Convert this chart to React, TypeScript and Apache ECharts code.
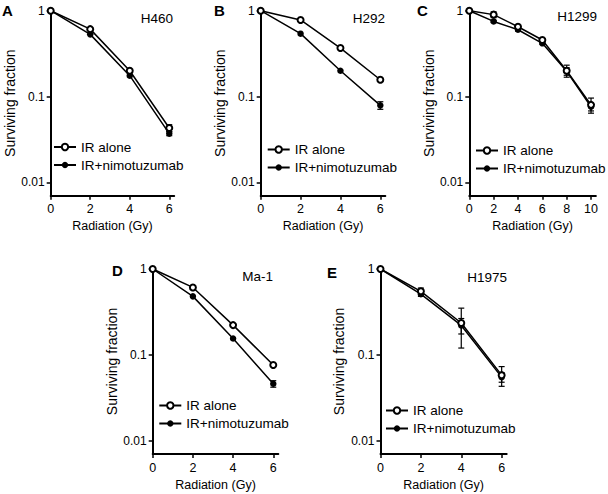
import React, { useEffect, useRef } from 'react';
import * as echarts from 'echarts';

// ---------- data ----------
const dose6 = [0, 2, 4, 6];
const dose10 = [0, 2, 4, 6, 8, 10];
const yTickValues = [0.01, 0.1, 1];
const xTicks6 = [0, 2, 4, 6];
const xTicks10 = [0, 2, 4, 6, 8, 10];

const seriesNames = ['IR alone', 'IR+nimotuzumab'];

const h460Alone = [1, 0.61, 0.2, 0.043];
const h460AloneErr = [0, 0, 0, 0.004];
const h460Nimo = [1, 0.53, 0.175, 0.037];
const h460NimoErr = [0, 0, 0, 0.002];

const h292Alone = [1, 0.78, 0.367, 0.157];
const h292AloneErr = [0, 0, 0, 0];
const h292Nimo = [1, 0.54, 0.2, 0.079];
const h292NimoErr = [0, 0, 0, 0.008];

const h1299Alone = [1, 0.9, 0.65, 0.456, 0.2, 0.08];
const h1299AloneErr = [0, 0.07, 0.02, 0.015, 0.032, 0.016];
const h1299Nimo = [1, 0.75, 0.6, 0.417, 0.197, 0.076];
const h1299NimoErr = [0, 0.02, 0.02, 0.01, 0.02, 0.008];

const ma1Alone = [1, 0.61, 0.222, 0.076];
const ma1AloneErr = [0, 0, 0, 0];
const ma1Nimo = [1, 0.48, 0.155, 0.046];
const ma1NimoErr = [0, 0, 0, 0.004];

const h1975Alone = [1, 0.55, 0.235, 0.058];
const h1975AloneErr = [0, 0.05, 0.115, 0.015];
const h1975Nimo = [1, 0.51, 0.22, 0.055];
const h1975NimoErr = [0, 0.03, 0.045, 0.007];

const panelLetters = ['A', 'B', 'C', 'D', 'E'];
const cellLines = ['H460', 'H292', 'H1299', 'Ma-1', 'H1975'];

// ---------- layout ----------
const FONT = '"Liberation Sans", Arial, Helvetica, sans-serif';

const panels = [
  { x: dose6, a: h460Alone, ae: h460AloneErr, n: h460Nimo, ne: h460NimoErr, xTicks: xTicks6, xMax: 6.25,
    left: 50.7, top: 10.7, width: 123.5, height: 185, nameGap: 32,
    legendLeft: 53, legendTop: 140, letterX: 2, letterY: 3, cellX: 173, cellY: 18 },
  { x: dose6, a: h292Alone, ae: h292AloneErr, n: h292Nimo, ne: h292NimoErr, xTicks: xTicks6, xMax: 6.25,
    left: 260.7, top: 10.7, width: 124.6, height: 185, nameGap: 30,
    legendLeft: 266.7, legendTop: 142.5, letterX: 214, letterY: 3, cellX: 385, cellY: 18 },
  { x: dose10, a: h1299Alone, ae: h1299AloneErr, n: h1299Nimo, ne: h1299NimoErr, xTicks: xTicks10, xMax: 10.4,
    left: 469.3, top: 10.7, width: 126.6, height: 185, nameGap: 33,
    legendLeft: 475, legendTop: 143.5, letterX: 417, letterY: 3, cellX: 597, cellY: 16 },
  { x: dose6, a: ma1Alone, ae: ma1AloneErr, n: ma1Nimo, ne: ma1NimoErr, xTicks: xTicks6, xMax: 6.25,
    left: 152.7, top: 269, width: 125.6, height: 185, nameGap: 30,
    legendLeft: 158.3, legendTop: 398.5, letterX: 112, letterY: 263, cellX: 273, cellY: 276 },
  { x: dose6, a: h1975Alone, ae: h1975AloneErr, n: h1975Nimo, ne: h1975NimoErr, xTicks: xTicks6, xMax: 6.25,
    left: 380.5, top: 269, width: 126.2, height: 185, nameGap: 35,
    legendLeft: 385, legendTop: 403.5, letterX: 327, letterY: 265, cellX: 507, cellY: 277 },
];

function errorRender(params: any, api: any) {
  const x = api.value(0);
  const lo = api.value(1);
  const hi = api.value(2);
  const p1 = api.coord([x, hi]);
  const p2 = api.coord([x, lo]);
  const w = 3;
  const style = { stroke: '#000', lineWidth: 1.2 };
  return {
    type: 'group',
    children: [
      { type: 'line', shape: { x1: p1[0], y1: p1[1], x2: p2[0], y2: p2[1] }, style },
      { type: 'line', shape: { x1: p1[0] - w, y1: p1[1], x2: p1[0] + w, y2: p1[1] }, style },
      { type: 'line', shape: { x1: p2[0] - w, y1: p2[1], x2: p2[0] + w, y2: p2[1] }, style },
    ],
  };
}

function buildOption() {
  const grid: any[] = [];
  const xAxis: any[] = [];
  const yAxis: any[] = [];
  const series: any[] = [];
  const legend: any[] = [];
  const graphic: any[] = [];

  panels.forEach((p, i) => {
    grid.push({ left: p.left, top: p.top, width: p.width, height: p.height, containLabel: false, outerBoundsMode: 'none' });
    xAxis.push({
      type: 'value', gridIndex: i, min: 0, max: p.xMax,
      axisLine: { show: true, onZero: false, lineStyle: { color: '#000', width: 2 } },
      axisTick: { show: true, length: 4, lineStyle: { color: '#000', width: 1.5 }, customValues: p.xTicks },
      axisLabel: { customValues: p.xTicks, color: '#000', fontSize: 12.5, margin: 7, fontFamily: FONT },
      splitLine: { show: false },
      name: 'Radiation (Gy)', nameLocation: 'middle', nameGap: 24,
      nameTextStyle: { color: '#000', fontSize: 12.5, fontFamily: FONT },
    });
    yAxis.push({
      type: 'log', logBase: 10, gridIndex: i, min: 0.007, max: 1,
      axisLine: { show: true, onZero: false, lineStyle: { color: '#000', width: 2 } },
      axisTick: { show: true, length: 4, lineStyle: { color: '#000', width: 1.5 }, customValues: yTickValues },
      axisLabel: {
        customValues: yTickValues, color: '#000', fontSize: 12, margin: 6, fontFamily: FONT,
        formatter: (v: number) => String(+Number(v).toPrecision(3)),
      },
      splitLine: { show: false },
      minorTick: { show: false },
      name: 'Surviving fraction', nameLocation: 'middle', nameGap: p.nameGap,
      nameTextStyle: { color: '#000', fontSize: 14, fontFamily: FONT },
    });

    const errData = (vals: number[], errs: number[]) =>
      p.x.map((x, j) => [x, vals[j] - errs[j], vals[j] + errs[j]]).filter((_, j) => errs[j] > 0);

    series.push({
      type: 'custom', xAxisIndex: i, yAxisIndex: i, renderItem: errorRender,
      data: [...errData(p.a, p.ae), ...errData(p.n, p.ne)], z: 1, silent: true,
      encode: { x: 0, y: [1, 2] },
    });
    series.push({
      name: seriesNames[1], type: 'line', xAxisIndex: i, yAxisIndex: i,
      data: p.x.map((x, j) => [x, p.n[j]]),
      symbol: 'circle', symbolSize: 6.5,
      lineStyle: { color: '#000', width: 1.5 },
      itemStyle: { color: '#000' }, z: 2,
    });
    series.push({
      name: seriesNames[0], type: 'line', xAxisIndex: i, yAxisIndex: i,
      data: p.x.map((x, j) => [x, p.a[j]]),
      symbol: 'emptyCircle', symbolSize: 6,
      lineStyle: { color: '#000', width: 1.5 },
      itemStyle: { color: '#000', borderWidth: 1.2 }, z: 3,
    });

    legend.push({
      data: seriesNames, orient: 'vertical', left: p.legendLeft, top: p.legendTop,
      itemWidth: 22, itemHeight: 8, itemGap: 4, padding: 0, selectedMode: false,
      textStyle: { color: '#000', fontSize: 13.5, fontFamily: FONT },
    });

    graphic.push({
      type: 'text', left: p.letterX, top: p.letterY,
      style: { text: panelLetters[i], font: `bold 15px ${FONT}`, fill: '#000' },
    });
    graphic.push({
      type: 'text', x: p.cellX, y: p.cellY,
      style: { text: cellLines[i], font: `13.5px ${FONT}`, fill: '#000', align: 'right', verticalAlign: 'middle' },
    });
  });

  return { animation: false, backgroundColor: '#fff', grid, xAxis, yAxis, series, legend, graphic };
}

export default function App() {
  const ref = useRef<HTMLDivElement>(null);
  useEffect(() => {
    const chart = echarts.init(ref.current!, null, { renderer: 'svg' });
    chart.setOption(buildOption() as any);
    return () => chart.dispose();
  }, []);
  return (
    <div
      ref={ref}
      style={{ position: 'absolute', left: 0, top: 0, width: 608, height: 494, background: '#fff' }}
    />
  );
}
